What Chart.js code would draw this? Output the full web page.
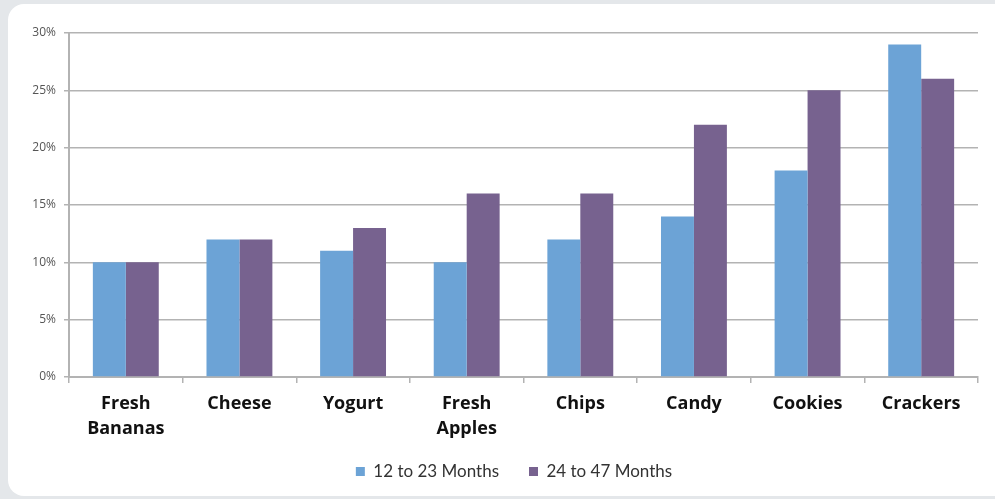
<!DOCTYPE html>
<html>
<head>
<meta charset="utf-8">
<script src="https://cdn.jsdelivr.net/npm/chart.js@4.4.1/dist/chart.umd.min.js"></script>
<style>
  html, body { margin: 0; padding: 0; background: #e4e7ea; overflow: hidden; }
  #panel {
    position: absolute; left: 8px; top: 4px; width: 1010px; height: 492px;
    background: #ffffff; border-radius: 16px;
  }
  #chart { position: absolute; left: 0; top: 0; }
</style>
</head>
<body>
<div id="panel"></div>
<canvas id="chart" width="995" height="499"></canvas>
<script>
//categories along the x axis
const categories = [
  ["Fresh", "Bananas"], "Cheese", "Yogurt", ["Fresh", "Apples"],
  "Chips", "Candy", "Cookies", "Crackers"
];
//series names
const seriesNames = ["12 to 23 Months", "24 to 47 Months"];
//percent values
const younger = [10, 12, 11, 10, 12, 14, 18, 29];
const older = [10, 12, 13, 16, 16, 22, 25, 26];
//y tick values
const yTicks = [0, 5, 10, 15, 20, 25, 30];

const gridGray = "#b3b3b3";

//nudge the legend so it sits centred under the bars like the original
const legendShift = {
  id: "legendShift",
  afterLayout(chart) {
    chart.legend.left += 25;
    chart.legend.right += 25;
    chart.legend.top -= 8;
    chart.legend.bottom -= 8;
  },
};

let myChart = new Chart(document.getElementById("chart"), {
  type: "bar",
  plugins: [legendShift],
  data: {
    labels: categories,
    datasets: [
      { label: seriesNames[0], data: younger, backgroundColor: "#6ca3d6" },
      { label: seriesNames[1], data: older, backgroundColor: "#77628f" },
    ],
  },
  options: {
    responsive: false,
    animation: false,
    layout: { padding: { top: 33, right: 17, left: 0, bottom: 1 } },
    datasets: { bar: { categoryPercentage: 0.58, barPercentage: 1.0 } },
    scales: {
      x: {
        grid: { offset: true, drawOnChartArea: false, tickLength: 6, color: gridGray, lineWidth: 1.5 },
        border: { color: gridGray, width: 2 },
        ticks: {
          color: "#111",
          padding: 8,
          maxRotation: 0,
          autoSkip: false,
          font: { family: "Open Sans", size: 18, weight: "bold", lineHeight: 1.4 },
        },
        afterFit: (scale) => { scale.height = 64; },
      },
      y: {
        min: 0,
        max: 30,
        afterBuildTicks: (scale) => { scale.ticks = yTicks.map((v) => ({ value: v })); },
        grid: { color: gridGray, lineWidth: 1.5, tickLength: 5 },
        border: { color: gridGray, width: 2 },
        ticks: {
          color: "#555",
          padding: 8,
          font: { family: "Open Sans", size: 12 },
          callback: (v) => v + "%",
        },
        afterFit: (scale) => { scale.width = 69; },
      },
    },
    plugins: {
      tooltip: false,
      legend: {
        position: "bottom",
        labels: {
          color: "#333",
          boxWidth: 9,
          boxHeight: 9,
          padding: 30,
          font: { family: "Lato", size: 17 },
        },
      },
    },
  },
});
</script>
</body>
</html>
